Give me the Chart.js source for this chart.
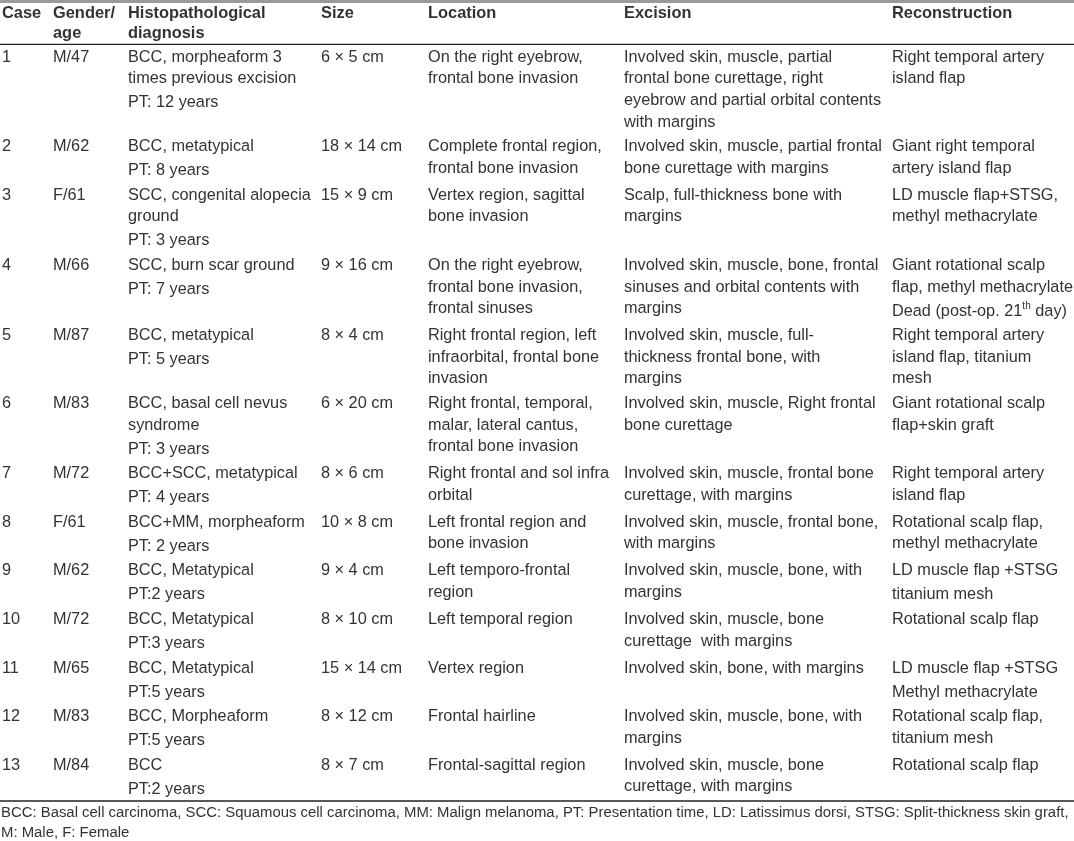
<!DOCTYPE html>
<html><head><meta charset="utf-8">
<script src="https://cdn.jsdelivr.net/npm/chart.js@4.4.1/dist/chart.umd.min.js"></script>
<style>html,body{margin:0;padding:0;background:#fff}canvas{display:block}</style>
</head><body>
<canvas id="c" width="1074" height="841"></canvas>
<script>
// ---- table content (each cell: list of paragraphs, "\n" = line break) ----
const columnHeaders = ["Case", "Gender/\nage", "Histopathological\ndiagnosis", "Size", "Location", "Excision", "Reconstruction"];
const caseIds = ["1","2","3","4","5","6","7","8","9","10","11","12","13"];
const genderAge = ["M/47","M/62","F/61","M/66","M/87","M/83","M/72","F/61","M/62","M/72","M/65","M/83","M/84"];
const diagnosis = [
  ["BCC, morpheaform 3\ntimes previous excision", "PT: 12 years"],
  ["BCC, metatypical", "PT: 8 years"],
  ["SCC, congenital alopecia\nground", "PT: 3 years"],
  ["SCC, burn scar ground", "PT: 7 years"],
  ["BCC, metatypical", "PT: 5 years"],
  ["BCC, basal cell nevus\nsyndrome", "PT: 3 years"],
  ["BCC+SCC, metatypical", "PT: 4 years"],
  ["BCC+MM, morpheaform", "PT: 2 years"],
  ["BCC, Metatypical", "PT:2 years"],
  ["BCC, Metatypical", "PT:3 years"],
  ["BCC, Metatypical", "PT:5 years"],
  ["BCC, Morpheaform", "PT:5 years"],
  ["BCC", "PT:2 years"]
];
const sizes = ["6 × 5 cm","18 × 14 cm","15 × 9 cm","9 × 16 cm","8 × 4 cm","6 × 20 cm","8 × 6 cm","10 × 8 cm","9 × 4 cm","8 × 10 cm","15 × 14 cm","8 × 12 cm","8 × 7 cm"];
const locations = [
  "On the right eyebrow,\nfrontal bone invasion",
  "Complete frontal region,\nfrontal bone invasion",
  "Vertex region, sagittal\nbone invasion",
  "On the right eyebrow,\nfrontal bone invasion,\nfrontal sinuses",
  "Right frontal region, left\ninfraorbital, frontal bone\ninvasion",
  "Right frontal, temporal,\nmalar, lateral cantus,\nfrontal bone invasion",
  "Right frontal and sol infra\norbital",
  "Left frontal region and\nbone invasion",
  "Left temporo-frontal\nregion",
  "Left temporal region",
  "Vertex region",
  "Frontal hairline",
  "Frontal-sagittal region"
];
const excisions = [
  "Involved skin, muscle, partial\nfrontal bone curettage, right\neyebrow and partial orbital contents\nwith margins",
  "Involved skin, muscle, partial frontal\nbone curettage with margins",
  "Scalp, full-thickness bone with\nmargins",
  "Involved skin, muscle, bone, frontal\nsinuses and orbital contents with\nmargins",
  "Involved skin, muscle, full-\nthickness frontal bone, with\nmargins",
  "Involved skin, muscle, Right frontal\nbone curettage",
  "Involved skin, muscle, frontal bone\ncurettage, with margins",
  "Involved skin, muscle, frontal bone,\nwith margins",
  "Involved skin, muscle, bone, with\nmargins",
  "Involved skin, muscle, bone\ncurettage  with margins",
  "Involved skin, bone, with margins",
  "Involved skin, muscle, bone, with\nmargins",
  "Involved skin, muscle, bone\ncurettage, with margins"
];
const reconstructions = [
  ["Right temporal artery\nisland flap"],
  ["Giant right temporal\nartery island flap"],
  ["LD muscle flap+STSG,\nmethyl methacrylate"],
  ["Giant rotational scalp\nflap, methyl methacrylate", "Dead (post-op. 21<sup>th</sup> day)"],
  ["Right temporal artery\nisland flap, titanium\nmesh"],
  ["Giant rotational scalp\nflap+skin graft"],
  ["Right temporal artery\nisland flap"],
  ["Rotational scalp flap,\nmethyl methacrylate"],
  ["LD muscle flap +STSG", "titanium mesh"],
  ["Rotational scalp flap"],
  ["LD muscle flap +STSG", "Methyl methacrylate"],
  ["Rotational scalp flap,\ntitanium mesh"],
  ["Rotational scalp flap"]
];
const footnotes = [
  "BCC: Basal cell carcinoma, SCC: Squamous cell carcinoma, MM: Malign melanoma, PT: Presentation time, LD: Latissimus dorsi, STSG: Split-thickness skin graft,",
  "M: Male, F: Female"
];

// ---- layout (styles/positions, kept separate from content) ----
const FONT = '"Liberation Sans", Arial, sans-serif';
const BODY_PX = 16.3, HEAD_PX = 16.4, FOOT_PX = 14.9;
const TEXT_COLOR = '#333333';
const colX = [2, 53, 128, 321, 428, 624, 892];
const HEAD_Y0 = 13.3, HEAD_LH = 20;
const BODY_Y0 = 57.3, LH = 21.6, PARA = 2.4, ROWPAD = 0.6;

const asParas = v => Array.isArray(v) ? v : [v];
const columns = [caseIds, genderAge, diagnosis, sizes, locations, excisions, reconstructions];
const cellHeight = paras => asParas(paras).reduce((s, p) => s + p.split('\n').length * LH + PARA, 0);

// row first-line centers derived from content
const rowY = [];
let yCursor = BODY_Y0;
for (let r = 0; r < caseIds.length; r++) {
  rowY.push(yCursor);
  yCursor += Math.max(...columns.map(col => cellHeight(col[r]))) + ROWPAD;
}
const lastLineY = rowY[rowY.length - 1] + LH + PARA;
const bottomRuleY = lastLineY + 11.7;

const datasets = columns.map((col, c) => ({
  label: columnHeaders[c],
  data: col.map((v, r) => ({ x: colX[c], y: rowY[r] })),
  pointRadius: 0, pointHoverRadius: 0, showLine: false
}));
datasets.push({
  label: 'headers',
  data: columnHeaders.map((h, c) => ({ x: colX[c], y: HEAD_Y0 })),
  pointRadius: 0, pointHoverRadius: 0, showLine: false
});

function drawRich(ctx, text, x, y, px, weight) {
  const parts = text.split(/(<sup>.*?<\/sup>)/);
  let cx = x;
  for (const part of parts) {
    if (!part) continue;
    const m = part.match(/^<sup>(.*)<\/sup>$/);
    if (m) {
      ctx.font = `${weight} ${px * 0.62}px ${FONT}`;
      ctx.fillText(m[1], cx, y - px * 0.3);
      cx += ctx.measureText(m[1]).width;
    } else {
      ctx.font = `${weight} ${px}px ${FONT}`;
      ctx.fillText(part, cx, y);
      cx += ctx.measureText(part).width;
    }
  }
}

const tablePlugin = {
  id: 'tablePlugin',
  afterDatasetsDraw(chart) {
    const ctx = chart.ctx;
    const xs = chart.scales.x, ys = chart.scales.y;
    const dy = v => ys.getPixelForValue(v) - ys.getPixelForValue(0);
    ctx.save();
    // rules
    ctx.fillStyle = '#9a9a9a';
    ctx.fillRect(xs.left, ys.getPixelForValue(0), xs.width, dy(3));
    ctx.strokeStyle = '#222222';
    ctx.lineWidth = 1.3;
    [44.3, bottomRuleY].forEach(v => {
      const py = ys.getPixelForValue(v);
      ctx.beginPath(); ctx.moveTo(xs.left, py); ctx.lineTo(xs.right, py); ctx.stroke();
    });
    ctx.fillStyle = TEXT_COLOR;
    ctx.textBaseline = 'middle';
    ctx.textAlign = 'left';
    // body cells
    columns.forEach((col, c) => {
      const meta = chart.getDatasetMeta(c);
      meta.data.forEach((pt, r) => {
        let y = pt.y;
        asParas(col[r]).forEach(p => {
          p.split('\n').forEach(line => {
            drawRich(ctx, line, pt.x, y, BODY_PX, 'normal');
            y += dy(LH);
          });
          y += dy(PARA);
        });
      });
    });
    // headers
    const hm = chart.getDatasetMeta(columns.length);
    hm.data.forEach((pt, c) => {
      columnHeaders[c].split('\n').forEach((line, i) => {
        drawRich(ctx, line, pt.x, pt.y + i * dy(HEAD_LH), HEAD_PX, 'bold');
      });
    });
    // footnotes
    footnotes.forEach((t, i) => {
      drawRich(ctx, t, xs.getPixelForValue(1), ys.getPixelForValue(bottomRuleY + 12.3 + i * 19.6), FOOT_PX, 'normal');
    });
    ctx.restore();
  }
};

new Chart(document.getElementById('c'), {
  type: 'scatter',
  data: { datasets },
  options: {
    responsive: false,
    animation: false,
    devicePixelRatio: 1,
    layout: { padding: 0 },
    events: [],
    plugins: { legend: { display: false }, tooltip: { enabled: false }, title: { display: false } },
    scales: {
      x: { type: 'linear', min: 0, max: 1074, display: false },
      y: { type: 'linear', min: 0, max: 841, reverse: true, display: false }
    }
  },
  plugins: [tablePlugin]
});
</script>
</body></html>
